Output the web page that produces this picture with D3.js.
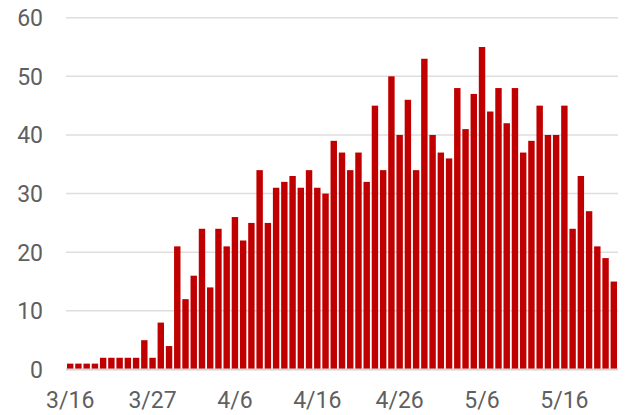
<!DOCTYPE html>
<html>
<head>
<meta charset="utf-8">
<script src="https://cdn.jsdelivr.net/npm/d3@7/dist/d3.min.js"></script>
<style>
body{margin:0;background:#fff;}
text{font-family:Roboto, "Noto Sans", sans-serif;}
</style>
</head>
<body>
<div id="chart"></div>
<script>
// daily counts, one bar per day
const dates = ["3/16","3/17","3/18","3/19","3/20","3/21","3/23","3/24","3/25","3/26",
    "3/27","3/28","3/29","3/30","3/31","4/1","4/2","4/3","4/4","4/5",
    "4/6","4/7","4/8","4/9","4/10","4/11","4/12","4/13","4/14","4/15",
    "4/16","4/17","4/18","4/19","4/20","4/21","4/22","4/23","4/24","4/25",
    "4/26","4/27","4/28","4/29","4/30","5/1","5/2","5/3","5/4","5/5",
    "5/6","5/7","5/8","5/9","5/10","5/11","5/12","5/13","5/14","5/15",
    "5/16","5/17","5/18","5/19","5/20","5/21","5/22"];
const counts = [1,1,1,1,2,2,2,2,2,5,
    2,8,4,21,12,16,24,14,24,21,
    26,22,25,34,25,31,32,33,31,34,
    31,30,39,37,34,37,32,45,34,50,
    40,46,34,53,40,37,36,48,41,47,
    55,44,48,42,48,37,39,45,40,40,
    45,24,33,27,21,19,15];
const xTicks = ["3/16","3/27","4/6","4/16","4/26","5/6","5/16"];
const yTicks = [0,10,20,30,40,50,60];

const svgWidth = 625, svgHeight = 415;
const margin = {top: 17.7, right: 7, bottom: 45.5, left: 66};
const width = svgWidth - margin.left - margin.right;
const height = svgHeight - margin.top - margin.bottom;

const svg = d3.select("#chart")
    .append("svg")
    .attr("width", svgWidth)
    .attr("height", svgHeight)
    .append("g")
    .attr("transform", "translate(" + margin.left + "," + margin.top + ")");

const xscale = d3.scaleBand()
    .domain(dates)
    .range([0, width])
    .paddingInner(0.22)
    .paddingOuter(0.12);

const yscale = d3.scaleLinear()
    .domain([0, 60])
    .range([height, 0]);

//gridlines
svg.selectAll(".grid")
    .data(yTicks.slice(1))
    .enter()
    .append("line")
    .attr("x1", 0)
    .attr("x2", width)
    .attr("y1", d => yscale(d))
    .attr("y2", d => yscale(d))
    .style("stroke", "#dedede")
    .style("stroke-width", 1.5);

//bars
svg.selectAll(".bar")
    .data(counts)
    .enter()
    .append("rect")
    .attr("x", (d, i) => xscale(dates[i]))
    .attr("y", d => yscale(d))
    .attr("width", xscale.bandwidth())
    .attr("height", d => height - yscale(d))
    .style("fill", "#c00000");

//baseline
svg.append("line")
    .attr("x1", 0)
    .attr("x2", width)
    .attr("y1", yscale(0))
    .attr("y2", yscale(0))
    .style("stroke", "#d4d4d4")
    .style("stroke-width", 2);

//y labels
svg.selectAll(".ylab")
    .data(yTicks)
    .enter()
    .append("text")
    .attr("x", -23)
    .attr("y", d => yscale(d))
    .attr("dy", "0.36em")
    .attr("text-anchor", "end")
    .style("font-size", "23px")
    .style("fill", "#5f5f5f")
    .text(d => d);

//x labels
svg.selectAll(".xlab")
    .data(xTicks)
    .enter()
    .append("text")
    .attr("x", d => xscale(d) + xscale.bandwidth() / 2)
    .attr("y", height + 39)
    .attr("text-anchor", "middle")
    .style("font-size", "23px")
    .style("fill", "#5f5f5f")
    .text(d => d);
</script>
</body>
</html>
